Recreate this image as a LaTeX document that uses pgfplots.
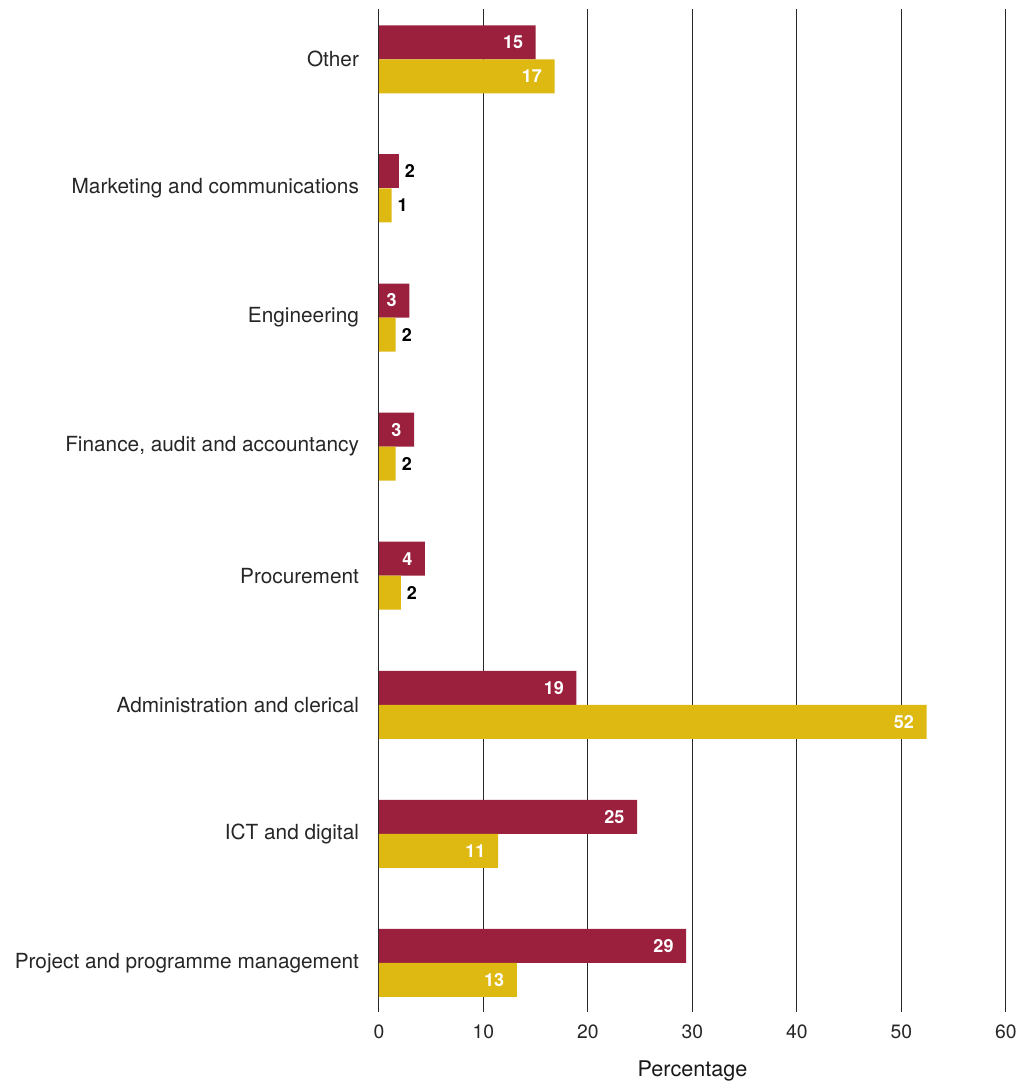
\documentclass[border=0pt]{standalone}
\usepackage{fontspec}
\setmainfont{TeX Gyre Heros}
\usepackage{pgfplots}
\usepackage{pgfplotstable}
\pgfplotsset{compat=1.18}
\definecolor{barred}{RGB}{155,32,62}
\definecolor{baryel}{RGB}{222,185,18}
\definecolor{gridc}{RGB}{40,40,40}

% y: 0 = Project ... 7 = Other
\pgfplotstableread{
x y lab
29.4 0 29
24.7 1 25
18.9 2 19
4.4 3 4
3.35 4 3
2.9 5 3
15.0 7 15
}\redin
\pgfplotstableread{
x y lab
1.9 6 2
}\redout
\pgfplotstableread{
x y lab
13.2 0 13
11.4 1 11
52.4 2 52
16.8 7 17
}\yelin
\pgfplotstableread{
x y lab
2.1 3 2
1.6 4 2
1.6 5 2
1.2 6 1
}\yelout

\begin{document}
\begin{tikzpicture}
\begin{axis}[
  name=ax,
  scale only axis,
  width=470.25pt, height=752.25pt,
  xmin=0, xmax=60,
  ymin=-0.38, ymax=7.39,
  xtick={0,10,...,60},
  ytick={0,1,2,3,4,5,6,7},
  yticklabels={Project and programme management, ICT and digital, Administration and clerical, Procurement, {Finance, audit and accountancy}, Engineering, Marketing and communications, Other},
  axis line style={draw=none},
  major tick length=0pt,
  xmajorgrids,
  grid style={gridc, line width=0.75pt},
  xticklabel style={font=\fontsize{14.5pt}{16pt}\selectfont, text=black!85, yshift=-6pt},
  yticklabel style={font=\fontsize{15.6pt}{17pt}\selectfont, text=black!85, xshift=-11.5pt},
  /pgf/number format/assume math mode=true,
  xlabel={Percentage},
  xlabel style={font=\fontsize{16.2pt}{18pt}\selectfont, text=black!90, yshift=-9.5pt},
  xbar, bar width=25.5pt,
  point meta=explicit symbolic,
  nodes near coords,
  clip=false,
]
\addplot[draw=none, fill=barred, bar shift=12.75pt,
  every node near coord/.append style={anchor=east, text=white, font=\fontsize{13.5pt}{14pt}\selectfont\bfseries, xshift=-6pt}]
  table[x=x, y=y, meta=lab] {\redin};
\addplot[draw=none, fill=barred, bar shift=12.75pt,
  every node near coord/.append style={anchor=west, text=black, font=\fontsize{13.5pt}{14pt}\selectfont\bfseries, xshift=1pt}]
  table[x=x, y=y, meta=lab] {\redout};
\addplot[draw=none, fill=baryel, bar shift=-12.75pt,
  every node near coord/.append style={anchor=east, text=white, font=\fontsize{13.5pt}{14pt}\selectfont\bfseries, xshift=-6pt}]
  table[x=x, y=y, meta=lab] {\yelin};
\addplot[draw=none, fill=baryel, bar shift=-12.75pt,
  every node near coord/.append style={anchor=west, text=black, font=\fontsize{13.5pt}{14pt}\selectfont\bfseries, xshift=1pt}]
  table[x=x, y=y, meta=lab] {\yelout};
\end{axis}
\pgfresetboundingbox
\path[use as bounding box] ([shift={(-284.25pt,-52.5pt)}]ax.south west) rectangle ([shift={(488.25pt,759pt)}]ax.south west);
\end{tikzpicture}
\end{document}
